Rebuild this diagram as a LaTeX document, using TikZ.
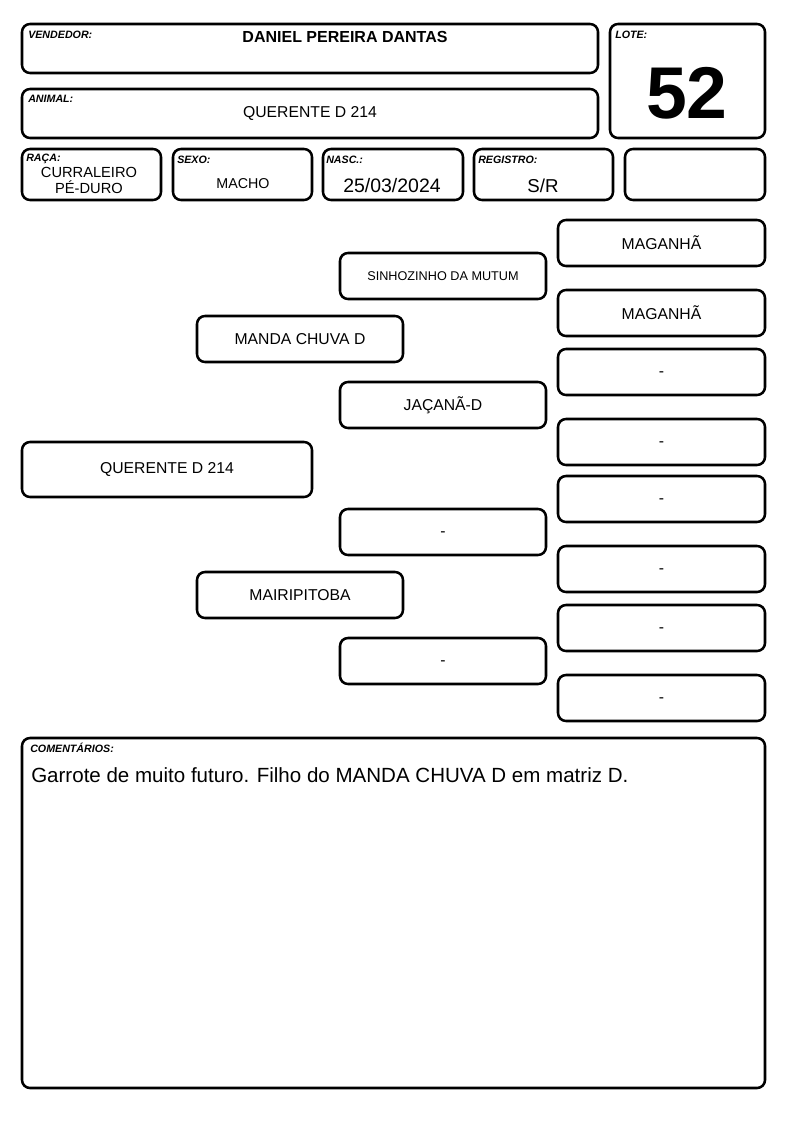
\documentclass[tikz,border=0pt]{standalone}
\usepackage{fontspec}
\setmainfont{Liberation Sans}
\newcommand\fs[1]{\fontsize{#1}{#1}\selectfont}
\newcommand\nodash{\smash{\raisebox{-0.27em}{-}}}
\newcommand\bx[7][]{\node[box,minimum width={(#5-#3)*0.75pt},minimum height={(#6-#4)*0.75pt},#1] (#2) at ({(#3+#5)/2},{(#4+#6)/2}) {#7};}
\begin{document}
\begin{tikzpicture}[x=0.75pt,y=-0.75pt,
  box/.style={draw,line width=1.9pt,rounded corners=6pt,inner sep=0pt,align=center,font=\fs{11.8pt}},
  lbl/.style={anchor=base west,inner sep=0pt,font=\fs{8pt}\bfseries\itshape},
  val/.style={inner sep=0pt,align=center,font=\fs{11.8pt}}]
\useasboundingbox[fill=white] (0,0) rectangle (794,1123);
% header
\bx{vend}{22}{24}{598}{73}{}
\bx{lote}{610}{24}{765}{138}{}
\bx{anim}{22}{89}{598}{138}{}
\bx{raca}{22}{149}{161}{200}{}
\bx{sexo}{173}{149}{312}{200}{}
\bx{nasc}{323}{149}{463}{200}{}
\bx{reg}{474}{149}{613}{200}{}
\bx{extra}{625}{149}{765}{200}{}
\node[lbl] (lvend) at (28,39) {VENDEDOR:};
\node[val,font=\fs{12pt}\bfseries] (tvend) at (345,37) {DANIEL PEREIRA DANTAS};
\node[lbl] (llote) at (615,39) {LOTE:};
\node[val,font=\fs{55pt}\bfseries] (tlote) at (687,93) {52};
\node[lbl] (lanim) at (28,103) {ANIMAL:};
\node[val] (tanim) at (310,113) {QUERENTE D 214};
\node[lbl] (lraca) at (26,162) {RAÇA:};
\node[val,font=\fs{11pt}] (traca) at (89,180) {CURRALEIRO\\[1pt]PÉ-DURO};
\node[lbl] (lsexo) at (177,164) {SEXO:};
\node[val,font=\fs{10.7pt}] (tsexo) at (243,184) {MACHO};
\node[lbl] (lnasc) at (326,164) {NASC.:};
\node[val,font=\fs{14.6pt}] (tnasc) at (392,186) {25/03/2024};
\node[lbl] (lreg) at (478,164) {REGISTRO:};
\node[val,font=\fs{14pt}] (treg) at (543,186) {S/R};
% pedigree
\bx{animal}{22}{442}{312}{497}{QUERENTE D 214}
\bx{pai}{197}{316}{403}{362}{MANDA CHUVA D}
\bx{mae}{197}{572}{403}{618}{MAIRIPITOBA}
\bx{avpp}{340}{253}{546}{299}{\fs{9.5pt}SINHOZINHO DA MUTUM}
\bx{avmp}{340}{382}{546}{428}{JAÇANÃ-D}
\bx{avpm}{340}{509}{546}{555}{\nodash}
\bx{avmm}{340}{638}{546}{684}{\nodash}
\bx{b1}{558}{220}{765}{266}{MAGANHÃ}
\bx{b2}{558}{290}{765}{336}{MAGANHÃ}
\bx{b3}{558}{349}{765}{395}{\nodash}
\bx{b4}{558}{419}{765}{465}{\nodash}
\bx{b5}{558}{476}{765}{522}{\nodash}
\bx{b6}{558}{546}{765}{592}{\nodash}
\bx{b7}{558}{605}{765}{651}{\nodash}
\bx{b8}{558}{675}{765}{721}{\nodash}
% comments
\bx{com}{22}{738}{765}{1088}{}
\node[lbl] (lcom) at (30,752) {COMENTÁRIOS:};
\node[anchor=base west,inner sep=0pt,font=\fs{15.4pt}] (tcom) at (31,782) {Garrote de muito futuro. Filho do MANDA CHUVA D em matriz D.};
\end{tikzpicture}
\end{document}
